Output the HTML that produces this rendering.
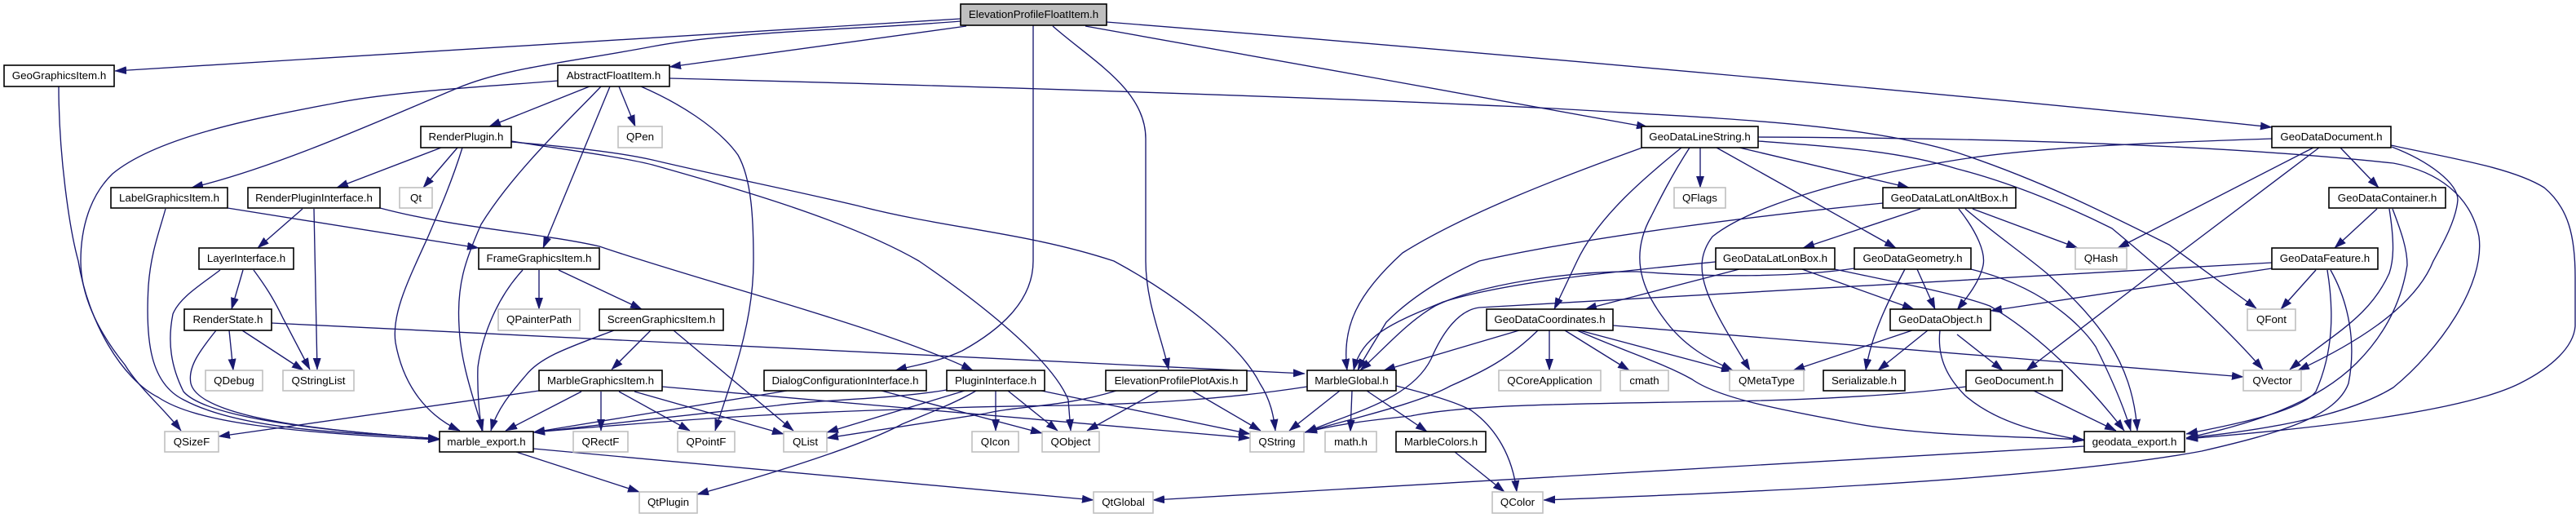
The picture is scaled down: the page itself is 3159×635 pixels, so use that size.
<!DOCTYPE html>
<html><head><meta charset="utf-8"><title>ElevationProfileFloatItem.h include graph</title>
<style>
html,body{margin:0;padding:0;background:#fff;width:3159px;height:635px;overflow:hidden}
svg{display:block}
.e path{fill:none;stroke:#191970;stroke-width:1.35;marker-end:url(#a)}
rect{fill:#fff;stroke:#000;stroke-width:1.6}
rect.g{stroke:#bfbfbf}
rect.r{fill:#bfbfbf}
text{font-family:"Liberation Sans",Arial,sans-serif;font-size:13.33px;text-anchor:middle;fill:#000}
</style></head><body>
<svg width="3159" height="635" viewBox="0 0 3159 635" xmlns="http://www.w3.org/2000/svg">
<defs><marker id="a" markerUnits="userSpaceOnUse" markerWidth="14" markerHeight="10" viewBox="0 0 14 10" refX="14" refY="5" orient="auto"><path d="M0,.3L14,5L0,9.7z" fill="#191970" stroke="#191970" stroke-width=".5"/></marker></defs>
<g class="e">
<path d="M1178,23C1050,31 600,60 141,87"/>
<path d="M1178,26C1060,36 900,38 800,57C700,76 620,83 561,108C470,146 340,205 235,230"/>
<path d="M1185,32L821,82"/>
<path d="M1267,31L1267,320C1267,370 1225,405 1180,430C1150,444 1120,448 1098,454"/>
<path d="M1291,32C1340,75 1405,110 1405,170L1405,320C1405,370 1425,415 1433,453"/>
<path d="M1331,32C1550,72 1800,115 2021,156"/>
<path d="M1357,27C1800,62 2500,125 2786,156"/>
<path d="M684,99C600,106 480,112 408,127C300,147 190,170 138,213C110,240 99,280 99,320C99,375 135,425 153,447C170,475 200,500 222,528"/>
<path d="M72,106C72,190 85,280 96,320C108,395 150,465 194,487C240,518 350,530 539,539"/>
<path d="M203,256C195,285 185,310 182,350C178,420 185,470 225,490C300,530 440,530 539,538"/>
<path d="M279,255L587,304"/>
<path d="M723,106L600,155"/>
<path d="M759,106L779,155"/>
<path d="M748,106L666,304"/>
<path d="M737,106C700,145 630,210 590,275C570,320 560,350 563,400C565,450 585,500 592,528"/>
<path d="M786,106C830,125 880,155 905,190C922,220 924,270 924,320C924,400 895,470 877,528"/>
<path d="M821,96C1200,106 1600,118 1906,133C2100,145 2280,150 2400,187C2500,220 2580,260 2660,300L2767,378"/>
<path d="M2156,173C2250,180 2330,185 2400,207C2470,225 2540,255 2590,280C2650,330 2720,390 2775,453"/>
<path d="M2156,168C2400,169 2700,175 2935,200C2990,210 3030,240 3040,290C3048,350 2990,430 2935,475C2870,515 2750,530 2681,537"/>
<path d="M2932,178C3000,193 3080,205 3120,230C3150,255 3158,290 3158,340L3158,400C3156,425 3130,450 3090,470C3010,510 2780,530 2681,538"/>
<path d="M2933,180C2980,198 3014,225 3014,245C3012,270 2995,300 2984,320C2960,380 2880,425 2818,454"/>
<path d="M2930,256C2937,300 2935,320 2930,335C2905,390 2860,410 2808,453"/>
<path d="M2934,256C2945,285 2952,305 2952,325C2945,370 2925,410 2890,445C2840,495 2760,520 2681,537"/>
<path d="M2915,256L2863,304"/>
<path d="M2840,331L2797,379"/>
<path d="M2786,329L2441,381"/>
<path d="M2786,322L1814,377C1790,380 1770,405 1755,440C1730,490 1660,505 1601,530"/>
<path d="M2858,331C2880,370 2890,420 2880,470C2865,510 2800,530 2700,553C2500,590 2100,605 1893,613"/>
<path d="M2854,331C2862,380 2862,430 2840,480C2820,505 2740,520 2681,532"/>
<path d="M2870,181L2917,230"/>
<path d="M2837,181L2597,304"/>
<path d="M2844,181L2660,320L2485,454"/>
<path d="M2786,170C2640,175 2500,180 2400,196C2280,215 2150,250 2100,290C2070,330 2095,370 2146,454"/>
<path d="M2014,181C1920,215 1800,260 1720,310C1665,360 1645,400 1652,454"/>
<path d="M2062,181C2020,215 1960,265 1934,320L1906,379"/>
<path d="M2072,181C2050,215 2035,245 2025,265C2000,310 2010,350 2040,390C2065,425 2095,440 2125,454"/>
<path d="M2085,181L2085,230"/>
<path d="M2105,181L2325,304"/>
<path d="M2133,181L2341,230"/>
<path d="M2309,249C2150,265 1950,290 1814,320C1770,340 1730,365 1700,395C1685,420 1672,440 1665,454"/>
<path d="M2104,321C1990,332 1850,345 1770,370C1710,395 1670,410 1660,454"/>
<path d="M2274,329C2200,340 2100,340 2008,333C1920,332 1810,350 1760,375C1725,395 1695,430 1668,454"/>
<path d="M2355,256L2211,304"/>
<path d="M2419,256L2548,304"/>
<path d="M2402,256C2425,285 2435,310 2432,325C2428,345 2412,365 2400,380"/>
<path d="M2410,256C2450,290 2480,310 2510,335C2570,390 2615,440 2621,528"/>
<path d="M2417,330C2500,350 2550,395 2570,425C2590,465 2605,500 2613,528"/>
<path d="M2250,330C2320,345 2400,360 2440,375C2500,410 2560,470 2605,528"/>
<path d="M2133,330L1944,379"/>
<path d="M2210,330L2347,379"/>
<path d="M2351,330L2373,379"/>
<path d="M2336,330C2315,370 2295,410 2288,454"/>
<path d="M1863,405L1697,454"/>
<path d="M1886,405C1850,440 1820,455 1779,473C1740,495 1650,515 1600,530"/>
<path d="M1900,405L1900,454"/>
<path d="M1919,405L1998,454"/>
<path d="M1937,405L2125,455"/>
<path d="M1934,405C1990,430 2040,445 2075,465C2110,490 2200,505 2263,517C2350,535 2480,535 2556,539"/>
<path d="M1978,399L2751,462"/>
<path d="M2345,405L2199,454"/>
<path d="M2364,405L2303,454"/>
<path d="M2400,410L2456,454"/>
<path d="M2379,405C2375,440 2390,465 2410,485C2450,520 2510,532 2556,540"/>
<path d="M2411,474C2350,482 2250,490 2110,492C1950,495 1800,495 1730,510C1680,515 1640,520 1601,530"/>
<path d="M2494,479L2595,528"/>
<path d="M2556,547L1414,613"/>
<path d="M1784,554L1845,603"/>
<path d="M1712,473C1760,485 1790,495 1804,503C1835,525 1855,560 1860,603"/>
<path d="M1658,479L1656,529"/>
<path d="M1676,479L1750,529"/>
<path d="M1643,479L1581,528"/>
<path d="M1603,474C1500,490 1400,495 1310,497C1200,498 1106,502 1106,502C1000,505 880,510 654,530"/>
<path d="M1161,478C1090,490 1000,490 953,497C880,505 740,520 654,530"/>
<path d="M965,479L800,506L654,530"/>
<path d="M661,479L268,535"/>
<path d="M713,480L620,528"/>
<path d="M737,480L737,528"/>
<path d="M759,480L846,528"/>
<path d="M778,480L961,532"/>
<path d="M812,474L1533,537"/>
<path d="M753,405C700,425 663,437 645,460C628,480 610,500 602,528"/>
<path d="M798,405L750,453"/>
<path d="M826,405L973,528"/>
<path d="M641,331C605,370 590,420 586,450C585,480 588,510 591,528"/>
<path d="M661,331L661,379"/>
<path d="M685,331L787,379"/>
<path d="M541,181L413,230"/>
<path d="M561,181L519,230"/>
<path d="M567,181C555,220 540,255 525,290C500,345 480,385 485,420C495,475 525,510 564,528"/>
<path d="M627,173C690,183 760,192 800,202C900,230 1040,270 1127,320C1200,370 1290,440 1310,490L1313,528"/>
<path d="M627,174C700,180 760,187 800,196C880,215 980,235 1055,253C1160,280 1260,285 1366,320C1440,360 1520,420 1545,470C1558,490 1562,510 1564,528"/>
<path d="M371,256L316,304"/>
<path d="M385,256L389,453"/>
<path d="M466,255C560,280 660,285 735,302C860,345 1080,400 1193,454"/>
<path d="M298,331L284,379"/>
<path d="M311,331C325,350 335,365 347,390L380,453"/>
<path d="M270,331C245,350 220,365 212,385C205,420 210,450 225,480C255,515 420,530 539,538"/>
<path d="M333,396L1600,458"/>
<path d="M281,405L286,454"/>
<path d="M297,405L372,454"/>
<path d="M265,405C245,430 230,450 234,470C245,515 420,530 539,538"/>
<path d="M1183,479L1014,530"/>
<path d="M1197,479C1170,495 1130,510 1106,520C1060,545 950,580 855,606"/>
<path d="M1221,479L1221,528"/>
<path d="M1236,479L1297,528"/>
<path d="M1277,479L1533,532"/>
<path d="M1081,479L1278,531"/>
<path d="M1369,479C1300,500 1250,497 1208,507L1014,537"/>
<path d="M1421,479L1333,528"/>
<path d="M1462,479L1546,528"/>
<path d="M633,554L784,603"/>
<path d="M654,550L1341,613"/>
</g>
<rect class="r" x="1178" y="5" width="179" height="26"/><text x="1267.5" y="22">ElevationProfileFloatItem.h</text>
<rect x="5" y="80" width="135" height="26"/><text x="72.5" y="97">GeoGraphicsItem.h</text>
<rect x="684" y="80" width="137" height="26"/><text x="752.5" y="97">AbstractFloatItem.h</text>
<rect x="516" y="155" width="111" height="26"/><text x="571.5" y="172">RenderPlugin.h</text>
<rect class="g" x="758" y="155" width="54" height="26"/><text x="785" y="172">QPen</text>
<rect x="136" y="230" width="143" height="25"/><text x="207.5" y="247">LabelGraphicsItem.h</text>
<rect x="304" y="230" width="162" height="25"/><text x="385" y="247">RenderPluginInterface.h</text>
<rect class="g" x="490" y="230" width="40" height="25"/><text x="510" y="247">Qt</text>
<rect x="244" y="304" width="116" height="26"/><text x="302" y="321">LayerInterface.h</text>
<rect x="587" y="304" width="148" height="26"/><text x="661" y="321">FrameGraphicsItem.h</text>
<rect x="226" y="379" width="107" height="26"/><text x="279.5" y="396">RenderState.h</text>
<rect class="g" x="611" y="379" width="100" height="26"/><text x="661" y="396">QPainterPath</text>
<rect x="735" y="379" width="152" height="26"/><text x="811" y="396">ScreenGraphicsItem.h</text>
<rect class="g" x="252" y="454" width="70" height="25"/><text x="287" y="471">QDebug</text>
<rect class="g" x="347" y="454" width="87" height="25"/><text x="390.5" y="471">QStringList</text>
<rect x="661" y="454" width="151" height="25"/><text x="736.5" y="471">MarbleGraphicsItem.h</text>
<rect class="g" x="202" y="529" width="66" height="25"/><text x="235" y="546">QSizeF</text>
<rect x="539" y="529" width="115" height="25"/><text x="596.5" y="546">marble_export.h</text>
<rect class="g" x="703" y="529" width="67" height="25"/><text x="736.5" y="546">QRectF</text>
<rect class="g" x="784" y="603" width="71" height="26"/><text x="819.5" y="620">QtPlugin</text>
<rect x="937" y="454" width="199" height="25"/><text x="1036.5" y="471">DialogConfigurationInterface.h</text>
<rect x="1161" y="454" width="120" height="25"/><text x="1221" y="471">PluginInterface.h</text>
<rect x="1356" y="454" width="173" height="25"/><text x="1442.5" y="471">ElevationProfilePlotAxis.h</text>
<rect class="g" x="831" y="529" width="70" height="25"/><text x="866" y="546">QPointF</text>
<rect class="g" x="961" y="529" width="53" height="25"/><text x="987.5" y="546">QList</text>
<rect class="g" x="1192" y="529" width="57" height="25"/><text x="1220.5" y="546">QIcon</text>
<rect class="g" x="1278" y="529" width="70" height="25"/><text x="1313" y="546">QObject</text>
<rect class="g" x="1533" y="529" width="66" height="25"/><text x="1566" y="546">QString</text>
<rect class="g" x="1341" y="603" width="73" height="26"/><text x="1377.5" y="620">QtGlobal</text>
<rect x="2013" y="155" width="143" height="26"/><text x="2084.5" y="172">GeoDataLineString.h</text>
<rect class="g" x="2053" y="230" width="63" height="25"/><text x="2084.5" y="247">QFlags</text>
<rect x="2309" y="230" width="163" height="25"/><text x="2390.5" y="247">GeoDataLatLonAltBox.h</text>
<rect x="2104" y="304" width="146" height="26"/><text x="2177" y="321">GeoDataLatLonBox.h</text>
<rect x="2274" y="304" width="143" height="26"/><text x="2345.5" y="321">GeoDataGeometry.h</text>
<rect x="1823" y="379" width="155" height="26"/><text x="1900.5" y="396">GeoDataCoordinates.h</text>
<rect x="2318" y="379" width="123" height="26"/><text x="2379.5" y="396">GeoDataObject.h</text>
<rect x="1603" y="454" width="109" height="25"/><text x="1657.5" y="471">MarbleGlobal.h</text>
<rect class="g" x="1838" y="454" width="125" height="25"/><text x="1900.5" y="471">QCoreApplication</text>
<rect class="g" x="1987" y="454" width="59" height="25"/><text x="2016.5" y="471">cmath</text>
<rect class="g" x="2121" y="454" width="91" height="25"/><text x="2166.5" y="471">QMetaType</text>
<rect x="2236" y="454" width="100" height="25"/><text x="2286" y="471">Serializable.h</text>
<rect class="g" x="1625" y="529" width="63" height="25"/><text x="1656.5" y="546">math.h</text>
<rect x="1712" y="529" width="110" height="25"/><text x="1767" y="546">MarbleColors.h</text>
<rect class="g" x="1830" y="603" width="62" height="26"/><text x="1861" y="620">QColor</text>
<rect x="2786" y="155" width="146" height="26"/><text x="2859" y="172">GeoDataDocument.h</text>
<rect x="2856" y="230" width="143" height="25"/><text x="2927.5" y="247">GeoDataContainer.h</text>
<rect class="g" x="2545" y="304" width="63" height="26"/><text x="2576.5" y="321">QHash</text>
<rect x="2786" y="304" width="130" height="26"/><text x="2851" y="321">GeoDataFeature.h</text>
<rect class="g" x="2756" y="379" width="59" height="26"/><text x="2785.5" y="396">QFont</text>
<rect x="2411" y="454" width="118" height="25"/><text x="2470" y="471">GeoDocument.h</text>
<rect class="g" x="2751" y="454" width="71" height="25"/><text x="2786.5" y="471">QVector</text>
<rect x="2556" y="529" width="123" height="25"/><text x="2617.5" y="546">geodata_export.h</text>
</svg>
</body></html>
